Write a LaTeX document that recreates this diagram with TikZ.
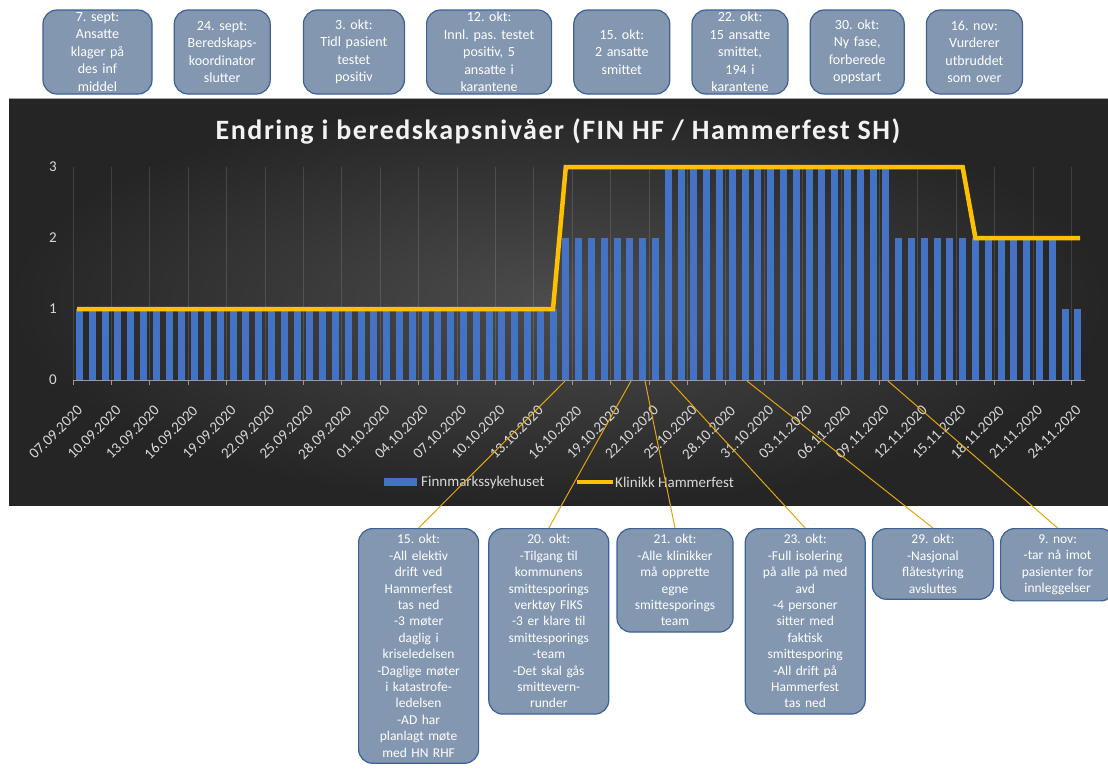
\documentclass[tikz,border=0pt]{standalone}
\usepackage{fontspec}
\setmainfont{Carlito}
\usepackage{xcolor}
\usetikzlibrary{positioning}
\frenchspacing

\definecolor{barblue}{HTML}{4472C4}
\definecolor{klinikkyellow}{HTML}{FFC000}
\definecolor{leadgold}{HTML}{E2A60E}
\definecolor{notefill}{HTML}{8497B0}
\definecolor{noteline}{HTML}{3D6096}
\definecolor{chartmid}{HTML}{4C4C4C}
\definecolor{chartdark}{HTML}{252525}
\definecolor{axistext}{HTML}{D9D9D9}

\begin{document}
\begin{tikzpicture}[
    x=1pt, y=-1pt,
    node distance=21pt,
    topnote/.style={rectangle, draw=noteline, line width=1.2pt, fill=notefill, rounded corners=14pt,
        text=white, align=center, minimum height=84pt, inner xsep=2pt, inner ysep=0pt,
        font=\fontsize{14}{17.5}\selectfont, text width=#1},
    bottomnote/.style={rectangle, draw=noteline, line width=1.2pt, fill=notefill, rounded corners=14pt,
        text=white, align=center, inner xsep=2pt, inner ysep=6pt, anchor=north west,
        font=\fontsize{13.5}{16.4}\selectfont, text width=#1},
    gridline/.style={draw=white, opacity=0.13, line width=0.8pt},
    axisline/.style={draw=gray!80, line width=0.9pt},
    datelabel/.style={text=axistext, font=\fontsize{15}{15}\selectfont, rotate=45, anchor=east, inner sep=0pt},
    ylabel/.style={text=axistext, font=\fontsize{15}{15}\selectfont},
    legtext/.style={text=axistext, font=\fontsize{15}{15}\selectfont, anchor=west, inner sep=0pt},
    klinikk/.style={draw=klinikkyellow, line width=4.5pt, line join=miter},
    lead/.style={draw=leadgold, line width=1pt},
]
\useasboundingbox (0,0) rectangle (1108,769);

% chart area
\shade[inner color=chartmid, outer color=chartdark] (9,98) rectangle (1108,505);
\draw[gray!70, line width=0.8pt] (9,98) -- (1108,98);

\foreach \k in {0,...,26} {
    \draw[gridline] ({73+38.4*\k},167) -- ({73+38.4*\k},380);
}

% Finnmarkssykehuset
\foreach \i in {0,...,78} {
    \pgfmathsetmacro\lev{1+(\i>37)+(\i>45)-(\i>63)-(\i>76)}
    \fill[barblue] ({79.4+12.8*\i-3.5},380) rectangle ({79.4+12.8*\i+3.5},{380-71*\lev});
}

\draw[axisline] (73,380) -- (1085,380);
\foreach \k in {0,...,26} {
    \draw[axisline] ({73+38.4*\k},380) -- ++(0,5);
}

% Klinikk Hammerfest
\draw[klinikk] (77,309) -- (553,309) -- (565.8,167) -- (962.6,167) -- (975.4,238) -- (1080,238);

\foreach \v in {0,1,2,3} {
    \node[ylabel] (y\v) at (53,{380-71*\v}) {\v};
}
\foreach \dt [count=\k from 0] in {07.09, 10.09, 13.09, 16.09, 19.09, 22.09, 25.09, 28.09, 01.10, 04.10,
        07.10, 10.10, 13.10, 16.10, 19.10, 22.10, 25.10, 28.10, 31.10, 03.11, 06.11, 09.11, 12.11,
        15.11, 18.11, 21.11, 24.11} {
    \node[datelabel] (x\k) at ({80+38.4*\k},408) {\dt.2020};
}

\node[text=white!95!black, font=\fontsize{28}{28}\bfseries\addfontfeature{LetterSpace=5.5}] (title) at (558,131)
    {Endring i beredskapsnivåer (FIN HF / Hammerfest SH)};

% legend
\node[legtext] (legfinn) at (421,482) {Finnmarkssykehuset};
\node[legtext] (legklin) at (615,482) {Klinikk Hammerfest};
\fill[barblue] (384,478) rectangle (417,486);
\draw[draw=klinikkyellow, line width=4.5pt] (577,482) -- (613,482);

% top notes
\node[topnote=105pt] (t7sept) at (97.5,52) {7. sept:\\Ansatte\\klager på\\des inf\\middel};
\node[topnote=92pt, right=of t7sept] (t24sept) {24. sept:\\Beredskaps-\\koordinator\\slutter};
\node[topnote=97pt, right=32pt of t24sept] (t3okt) {3. okt:\\Tidl pasient\\testet\\positiv};
\node[topnote=121pt, right=of t3okt] (t12okt) {12. okt:\\Innl. pas. testet\\positiv, 5\\ansatte i\\karantene};
\node[topnote=92pt, right=of t12okt] (t15okt) {15. okt:\\2 ansatte\\smittet};
\node[topnote=92pt, right=of t15okt] (t22okt) {22. okt:\\15 ansatte\\smittet,\\194 i\\karantene};
\node[topnote=90pt, right=of t22okt] (t30okt) {30. okt:\\Ny fase,\\forberede\\oppstart};
\node[topnote=92pt, right=of t30okt] (t16nov) {16. nov:\\Vurderer\\utbruddet\\som over};

% bottom notes
\node[bottomnote=116pt] (b15okt) at (358,528) {15. okt:\\-All elektiv\\drift ved\\Hammerfest\\tas ned\\-3 møter\\daglig i\\kriseledelsen\\-Daglige møter\\i katastrofe-\\ledelsen\\-AD har\\planlagt møte\\med HN RHF};
\node[bottomnote=116pt] (b20okt) at ([xshift=9pt]b15okt.north east) {20. okt:\\-Tilgang til\\kommunens\\smittesporings\\verktøy FIKS\\-3 er klare til\\smittesporings\\-team\\-Det skal gås\\smittevern-\\runder};
\node[bottomnote=112pt] (b21okt) at ([xshift=7pt]b20okt.north east) {21. okt:\\-Alle klinikker\\må opprette\\egne\\smittesporings\\team};
\node[bottomnote=116pt] (b23okt) at ([xshift=11pt]b21okt.north east) {23. okt:\\-Full isolering\\på alle på med\\avd\\-4 personer\\sitter med\\faktisk\\smittesporing\\-All drift på\\Hammerfest\\tas ned};
\node[bottomnote=117pt] (b29okt) at ([xshift=6pt]b23okt.north east) {29. okt:\\-Nasjonal\\flåtestyring\\avsluttes};
\node[bottomnote=110pt] (b9nov) at ([xshift=6pt]b29okt.north east) {9. nov:\\-tar nå imot\\pasienter for\\innleggelser};

\coordinate (e15okt) at (565,381);
\coordinate (e20okt) at (631,381);
\coordinate (e21okt) at (645,381);
\coordinate (e23okt) at (670,381);
\coordinate (e29okt) at (747,381);
\coordinate (e9nov) at (888,381);

\foreach \a in {15okt, 20okt, 21okt, 23okt, 29okt, 9nov} {
    \draw[lead] (e\a) -- (b\a.north);
}

\end{tikzpicture}
\end{document}
